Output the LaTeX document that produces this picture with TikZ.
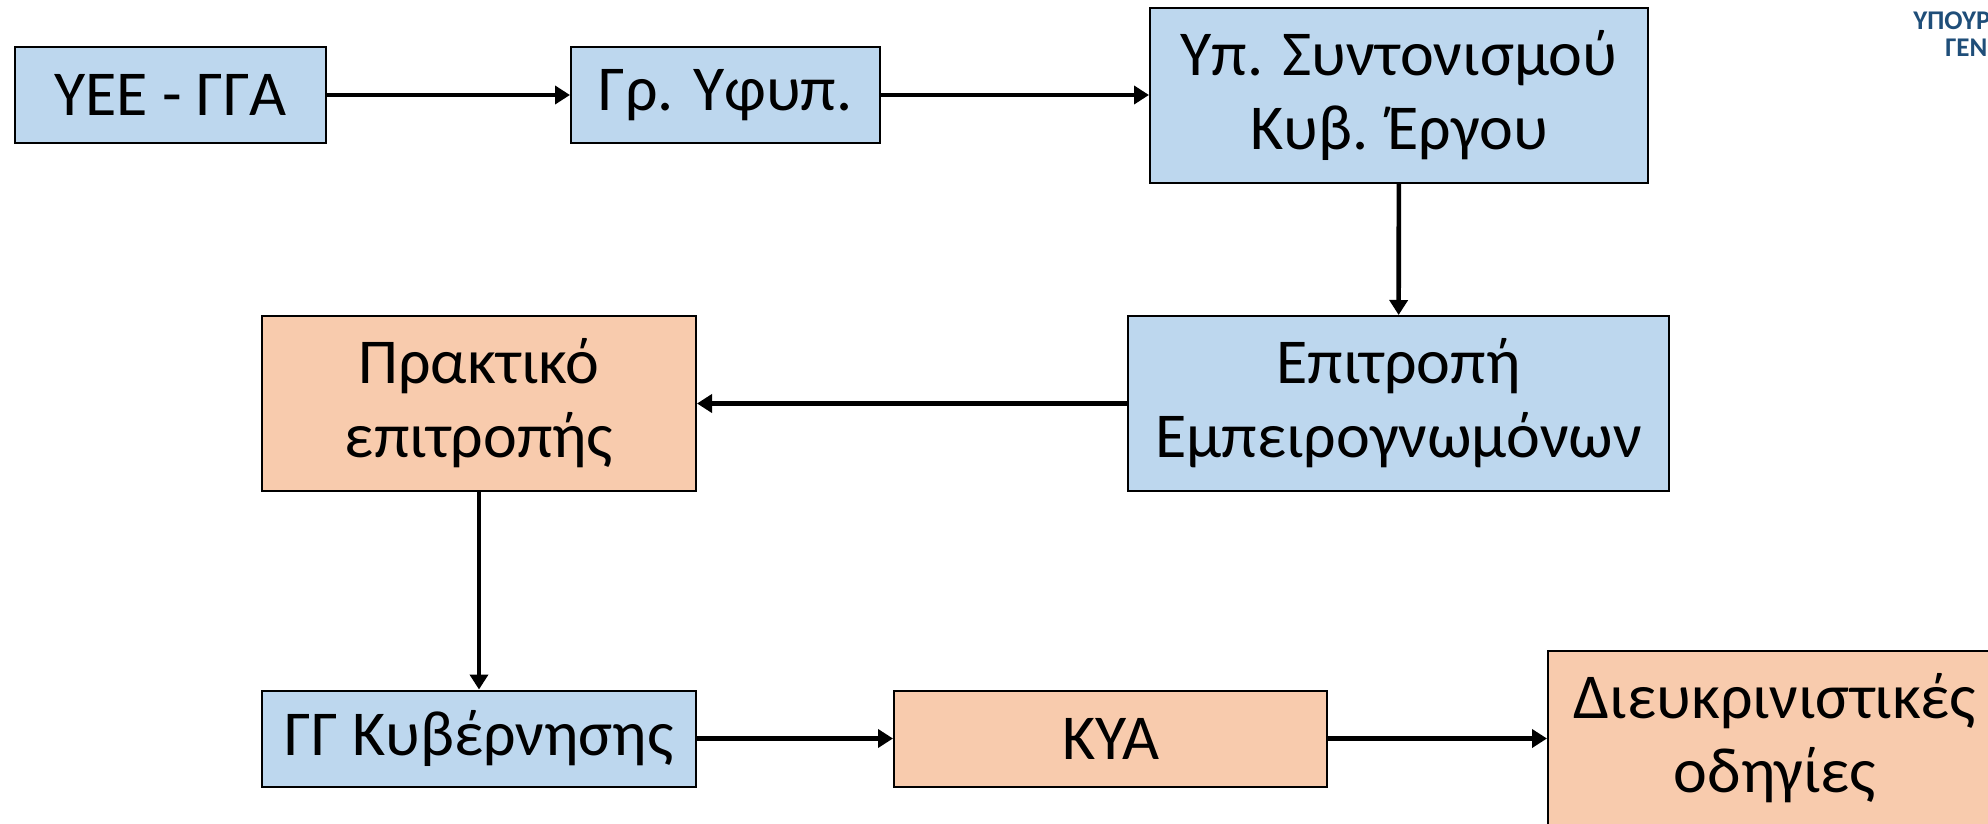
\documentclass[tikz,border=0pt]{standalone}
\usepackage{fontspec}
\setmainfont{Carlito}
\usetikzlibrary{arrows.meta}
\definecolor{boxblue}{HTML}{BDD7EE}
\definecolor{boxorange}{HTML}{F8CBAD}
\definecolor{headblue}{HTML}{1F4E79}
\begin{document}
\begin{tikzpicture}[x=0.5pt, y=-0.5pt,
  box/.style={draw=black, line width=1pt, inner sep=0pt, align=center,
    font=\fontsize{32}{37}\selectfont},
  bluebox/.style={box, fill=boxblue},
  orangebox/.style={box, fill=boxorange},
  flow/.style={-{Triangle[length=7.5pt,width=9pt]}, line width=2.3pt}]
  \useasboundingbox (0,0) rectangle (1988,824);
  \clip (0,0) rectangle (1988,824);
  \node[bluebox, minimum width=155.5pt, minimum height=48pt] (yee) at (170.5,95) {ΥΕΕ - ΓΓΑ};
  \node[bluebox, minimum width=154.5pt, minimum height=48pt] (yfyp) at (725.5,95) {Γρ. Υφυπ.};
  \node[bluebox, minimum width=249pt, minimum height=87.5pt] (syntonismos) at (1399,95.5) {Υπ. Συντονισμού\\Κυβ. Έργου};
  \node[bluebox, minimum width=270.5pt, minimum height=87.5pt] (epitropi) at (1398.5,403.5) {Επιτροπή\\Εμπειρογνωμόνων};
  \node[orangebox, minimum width=217pt, minimum height=87.5pt] (praktiko) at (479,403.5) {Πρακτικό\\επιτροπής};
  \node[bluebox, minimum width=217pt, minimum height=48pt] (ggk) at (479,738.5) {ΓΓ Κυβέρνησης};
  \node[orangebox, minimum width=227pt, minimum height=87.5pt] (odigies) at (1775,738.5) {Διευκρινιστικές\\οδηγίες};
  \node[orangebox, minimum width=216.5pt, minimum height=48pt] (kya) at (1110.5,738.5) {ΚΥΑ};
  \node[anchor=west, inner sep=0pt, text=headblue, font=\fontsize{13.5}{15}\bfseries] (ypour) at (1913,21) {ΥΠΟΥΡ};
  \node[anchor=west, inner sep=0pt, text=headblue, font=\fontsize{13.5}{15}\bfseries] (gen) at (1945,48) {ΓΕΝ};
  \draw[flow] (yee) -- (yfyp);
  \draw[flow] (yfyp) -- (syntonismos.west |- yfyp);
  \draw[flow] (syntonismos) -- (epitropi);
  \draw[flow] (epitropi) -- (praktiko);
  \draw[flow] (praktiko) -- (ggk);
  \draw[flow] (ggk) -- (kya);
  \draw[flow] (kya) -- (odigies);
\end{tikzpicture}
\end{document}
